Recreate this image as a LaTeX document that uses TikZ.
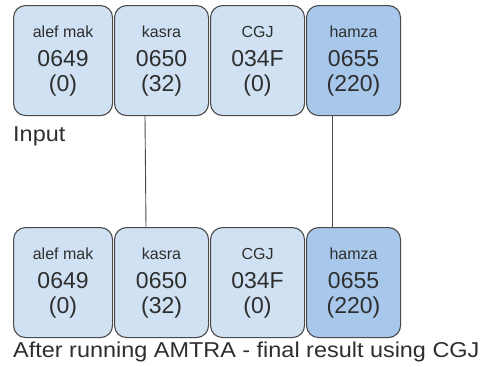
\documentclass[tikz,border=0pt]{standalone}
\usepackage{fontspec}
\setmainfont{Liberation Sans}
\definecolor{boxfill}{HTML}{CFE1F3}
\definecolor{boxdark}{HTML}{A8C8EB}
\definecolor{boxline}{HTML}{4A4A4A}
\definecolor{txt}{HTML}{2E2E2E}
\tikzset{
  cell/.style={draw=boxline, line width=1.1pt, fill=boxfill, rounded corners=12pt, inner sep=0pt, anchor=north west},
  darkcell/.style={cell, fill=boxdark},
  lbl/.style={anchor=base, text=txt, font=\fontsize{16}{18}\selectfont, inner sep=0pt},
  num/.style={anchor=base, text=txt, font=\fontsize{23}{26}\selectfont, inner sep=0pt},
  caption/.style={anchor=base west, text=txt, font=\fontsize{21.5}{24}\selectfont, inner sep=0pt, xscale=1.09},
  link/.style={draw=boxline, line width=0.9pt}
}
\begin{document}
\begin{tikzpicture}[x=1pt, y=-1pt]
\useasboundingbox (0,0) rectangle (483,367);
\foreach \row/\top in {a/5, b/227}{
  \node[cell, minimum width=99pt, minimum height=110pt] (\row1) at (13,\top) {};
  \node[cell, minimum width=94pt, minimum height=110pt] (\row2) at (114,\top) {};
  \node[cell, minimum width=94pt, minimum height=110pt] (\row3) at (210,\top) {};
  \node[darkcell, minimum width=94pt, minimum height=110pt] (\row4) at (306,\top) {};
  \node[lbl] (\row1l) at ([yshift=-32pt]\row1.north) {alef mak};
  \node[num] (\row1n) at ([yshift=-61.5pt]\row1.north) {0649};
  \node[num] (\row1c) at ([yshift=-86.5pt]\row1.north) {(0)};
  \node[lbl] (\row2l) at ([yshift=-32pt]\row2.north) {kasra};
  \node[num] (\row2n) at ([yshift=-61.5pt]\row2.north) {0650};
  \node[num] (\row2c) at ([yshift=-86.5pt]\row2.north) {(32)};
  \node[lbl] (\row3l) at ([yshift=-32pt]\row3.north) {CGJ};
  \node[num] (\row3n) at ([yshift=-61.5pt]\row3.north) {034F};
  \node[num] (\row3c) at ([yshift=-86.5pt]\row3.north) {(0)};
  \node[lbl] (\row4l) at ([yshift=-32pt]\row4.north) {hamza};
  \node[num] (\row4n) at ([yshift=-61.5pt]\row4.north) {0655};
  \node[num] (\row4c) at ([yshift=-86.5pt]\row4.north) {(220)};
}
\draw[link] ([xshift=31pt]a2.south west) -- ([xshift=32pt]b2.north west);
\draw[link] ([xshift=26pt]a4.south west) -- ([xshift=26pt]b4.north west);
\node[caption] (input) at (13,141) {Input};
\node[caption] (result) at (13,357) {After running AMTRA - final result using CGJ};
\end{tikzpicture}
\end{document}
